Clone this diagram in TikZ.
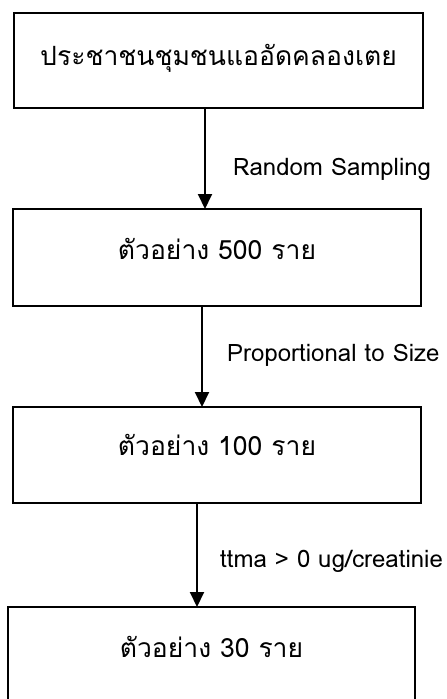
\documentclass[tikz,border=0pt]{standalone}
\usepackage{fontspec}
\usepackage{tikz}
\usetikzlibrary{arrows.meta}
\newfontfamily\thaifont[Script=Thai]{Loma}

\tikzset{
  box/.style={draw, line width=2pt, inner sep=0pt, outer sep=0pt, anchor=north west,
    font=\thaifont\fontsize{26.5}{30}\selectfont},
  flow/.style={line width=2pt, -{Triangle[width=14pt,length=15pt]}},
  note/.style={anchor=base west, inner sep=0pt, font=\thaifont\fontsize{24}{28}\selectfont}
}

\begin{document}
\begin{tikzpicture}[x=1pt,y=1pt,yscale=-1]
\useasboundingbox (0,0) rectangle (447,699);
%Boxes
\node[box, minimum width=409, minimum height=95, text height=52, text depth=43] (pop) at (14,13) {ประชาชนชุมชนแออัดคลองเตย};
\node[box, minimum width=408, minimum height=97, text height=50, text depth=47] (s500) at (13,209) {ตัวอย่าง 500 ราย};
\node[box, minimum width=408, minimum height=96, text height=48, text depth=48] (s100) at (13,407) {ตัวอย่าง 100 ราย};
\node[box, minimum width=407, minimum height=95, text height=50, text depth=45] (s30) at (8,607) {ตัวอย่าง 30 ราย};
%Arrows
\draw[flow] (pop.south -| 205,0) -- (s500.north -| 205,0);
\draw[flow] (s500.south -| 202,0) -- (s100.north -| 202,0);
\draw[flow] (s100.south -| 197,0) -- (s30.north -| 197,0);
%Labels
\node[note] (rs) at (233,175) {Random Sampling};
\node[note] (pps) at (227,361) {Proportional to Size};
\node[note] (ttma) at (220,567) {ttma > 0 ug/creatinie};
\end{tikzpicture}
\end{document}
